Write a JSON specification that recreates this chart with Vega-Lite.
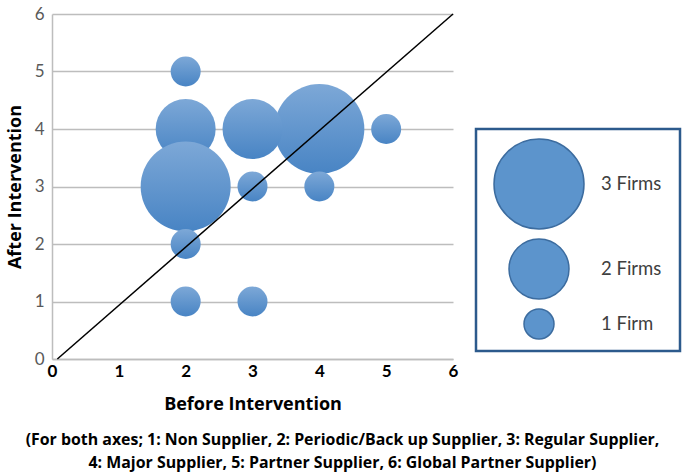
{
  "$schema": "https://vega.github.io/schema/vega-lite/v6.json",
  "autosize": {"type": "none"},
  "width": 401,
  "height": 345,
  "padding": {"left": 52, "top": 14, "right": 232, "bottom": 114},
  "background": "white",
  "config": {"view": {"stroke": null}, "font": "Lato", "legend": {"strokeWidth": 2.5}},
  "title": {
    "text": ["(For both axes; 1: Non Supplier, 2: Periodic/Back up Supplier, 3: Regular Supplier,", "4: Major Supplier, 5: Partner Supplier, 6: Global Partner Supplier)"],
    "orient": "bottom",
    "anchor": "middle",
    "dx": 90,
    "offset": 19,
    "font": "Open Sans",
    "fontSize": 15.9,
    "fontWeight": "bold",
    "color": "#000000",
    "lineHeight": 23
  },
  "data": {"values": [
    {"before": 4, "after": 4, "firms": 3},
    {"before": 2, "after": 4, "firms": 2},
    {"before": 3, "after": 4, "firms": 2},
    {"before": 2, "after": 3, "firms": 3},
    {"before": 2, "after": 5, "firms": 1},
    {"before": 3, "after": 3, "firms": 1},
    {"before": 4, "after": 3, "firms": 1},
    {"before": 5, "after": 4, "firms": 1},
    {"before": 2, "after": 2, "firms": 1},
    {"before": 2, "after": 1, "firms": 1},
    {"before": 3, "after": 1, "firms": 1}
  ]},
  "layer": [
    {
      "transform": [{"filter": "datum.firms > 3"}],
      "mark": {"type": "circle", "opacity": 1, "fill": "#5C94CC", "stroke": "#3C6C9F", "strokeWidth": 2},
      "encoding": {
        "x": {"field": "before", "type": "quantitative"},
        "y": {"field": "after", "type": "quantitative"},
        "size": {
          "field": "firms", "type": "quantitative",
          "scale": {"type": "pow", "exponent": 2, "domain": [0, 3], "range": [0, 8100]},
          "legend": {
            "orient": "none",
            "legendX": 424,
            "legendY": 115,
            "direction": "vertical",
            "title": "\u2003",
            "titleOrient": "right",
            "titleFontSize": 12,
            "titlePadding": 10,
            "values": [3, 2, 1],
            "labelExpr": "datum.value == 1 ? '1 Firm' : datum.value + ' Firms'",
            "symbolType": "circle",
            "symbolOpacity": 1,
            "padding": 9,
            "rowPadding": 4,
            "symbolOffset": 8,
            "labelOffset": 16,
            "labelFont": "Lato",
            "labelFontSize": 18.5,
            "labelColor": "#404040",
            "strokeColor": "#2C5A8C",
            "fillColor": "#FFFFFF"
          }
        }
      }
    },
    {
      "mark": {
        "type": "circle",
        "opacity": 1,
        "fill": {"gradient": "linear", "x1": 0, "y1": 0, "x2": 0, "y2": 1, "stops": [{"offset": 0, "color": "#7DA8D7"}, {"offset": 1, "color": "#4884C4"}]}
      },
      "encoding": {
        "x": {
          "field": "before", "type": "quantitative",
          "scale": {"domain": [0, 6], "nice": false, "zero": false},
          "axis": {
            "title": "Before Intervention",
            "values": [0, 1, 2, 3, 4, 5, 6],
            "format": "d",
            "labelFlush": false,
            "grid": false, "ticks": false,
            "domain": true, "domainColor": "#BDBDBD", "domainWidth": 1.5,
            "labelFont": "Lato", "labelFontSize": 17, "labelFontWeight": "bold", "labelColor": "#000000",
            "labelPadding": 4,
            "titleFont": "Open Sans", "titleFontSize": 18, "titleFontWeight": "bold", "titleColor": "#000000",
            "titlePadding": 16
          }
        },
        "y": {
          "field": "after", "type": "quantitative",
          "scale": {"domain": [0, 6], "nice": false, "zero": false},
          "axis": {
            "title": "After Intervention",
            "values": [0, 1, 2, 3, 4, 5, 6],
            "format": "d",
            "labelFlush": false,
            "grid": true, "gridColor": "#BDBDBD", "gridWidth": 1.5,
            "ticks": false,
            "domain": true, "domainColor": "#BDBDBD", "domainWidth": 1.5,
            "labelFont": "Lato", "labelFontSize": 17, "labelFontWeight": "normal", "labelColor": "#595959",
            "labelPadding": 8,
            "titleFont": "Open Sans", "titleFontSize": 18, "titleFontWeight": "bold", "titleColor": "#000000",
            "titlePadding": 10
          }
        },
        "size": {
          "field": "firms", "type": "quantitative",
          "legend": null
        }
      }
    },
    {
      "data": {"values": [
        {"before": 0.08, "after": 0},
        {"before": 6, "after": 6}
      ]},
      "mark": {"type": "line", "color": "#000000", "strokeWidth": 1.5},
      "encoding": {
        "x": {"field": "before", "type": "quantitative"},
        "y": {"field": "after", "type": "quantitative"}
      }
    }
  ]
}
